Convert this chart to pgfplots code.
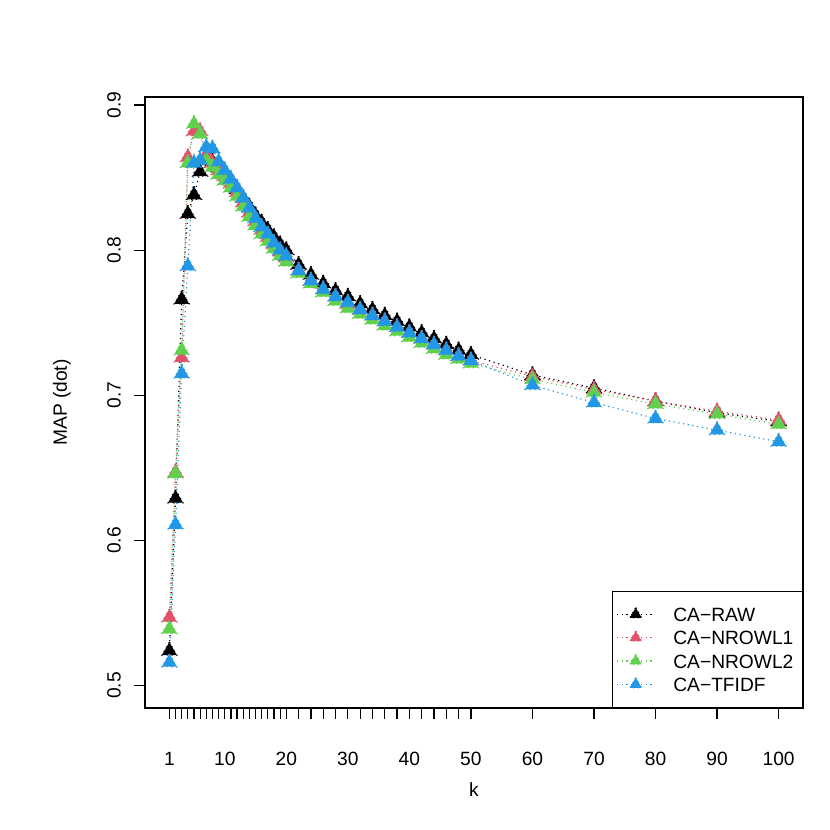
\documentclass[border=0pt]{standalone}
\usepackage{pgfplots}
\pgfplotsset{compat=1.18}
\usepackage{pgfplotstable}
\usepackage{fontspec}
\setmainfont{Liberation Sans}
\definecolor{rblack}{HTML}{000000}
\definecolor{rred}{HTML}{DF536B}
\definecolor{rgreen}{HTML}{61D04F}
\definecolor{rblue}{HTML}{2297E6}
\pgfplotstableread{
k raw nrowl1 nrowl2 tfidf
1 0.524 0.547 0.539 0.516
2 0.629 0.647 0.646 0.611
3 0.766 0.726 0.731 0.715
4 0.825 0.864 0.860 0.789
5 0.838 0.882 0.887 0.860
6 0.854 0.882 0.880 0.862
7 0.862 0.866 0.862 0.871
8 0.861 0.860 0.857 0.870
9 0.857 0.855 0.852 0.861
10 0.853 0.851 0.848 0.855
11 0.848 0.846 0.843 0.849
12 0.842 0.840 0.837 0.843
13 0.836 0.833 0.830 0.836
14 0.830 0.826 0.823 0.829
15 0.824 0.820 0.817 0.822
16 0.819 0.814 0.811 0.816
17 0.814 0.809 0.806 0.811
18 0.809 0.804 0.801 0.805
19 0.804 0.799 0.796 0.800
20 0.800 0.795 0.792 0.796
22 0.790 0.786 0.784 0.786
24 0.783 0.779 0.777 0.779
26 0.777 0.773 0.771 0.773
28 0.772 0.768 0.765 0.768
30 0.768 0.763 0.760 0.764
32 0.763 0.759 0.756 0.759
34 0.759 0.755 0.752 0.755
36 0.755 0.751 0.748 0.751
38 0.751 0.747 0.744 0.747
40 0.747 0.743 0.740 0.743
42 0.743 0.739 0.736 0.739
44 0.739 0.735 0.732 0.735
46 0.735 0.731 0.728 0.731
48 0.731 0.727 0.725 0.727
50 0.728 0.724 0.722 0.724
60 0.714 0.713 0.711 0.707
70 0.705 0.704 0.702 0.695
80 0.696 0.696 0.694 0.684
90 0.688 0.689 0.687 0.676
100 0.682 0.683 0.680 0.668
}\datatable
\newcommand{\rfont}{\fontsize{9.6}{11}\selectfont}
\begin{document}
\begin{tikzpicture}
\begin{axis}[
  scale only axis,
  width=329pt, height=305.5pt,
  xmin=-2.96, xmax=103.96,
  ymin=0.4846, ymax=0.9055,
  axis line style={line width=0.6pt},
  tick style={line width=0.6pt, black},
  tick align=outside,
  major tick length=5.5pt,
  xtick pos=bottom, ytick pos=left,
  xtick={1,10,20,30,40,50,60,70,80,90,100},
  xticklabels={1,10,20,30,40,50,60,70,80,90,100},
  extra x ticks={2,3,4,5,6,7,8,9,11,12,13,14,15,16,17,18,19,22,24,26,28,32,34,36,38,42,44,46,48},
  extra x tick labels={},
  extra x tick style={tick style={line width=0.6pt, black}},
  ytick={0.5,0.6,0.7,0.8,0.9},
  yticklabels={0.5,0.6,0.7,0.8,0.9},
  /pgf/number format/assume math mode=true,
  tick label style={font=\rfont},
  xticklabel style={anchor=center, yshift=-20pt},
  yticklabel style={anchor=center, xshift=-10pt, rotate=90},
  xlabel={k},
  ylabel={MAP (dot)},
  label style={font=\rfont},
  xlabel style={at={(axis description cs:0.5,-0.1342)}, anchor=center},
  ylabel style={at={(axis description cs:-0.1261,0.5)}, anchor=center},
  every axis plot/.append style={line width=0.6pt, dash pattern=on 0.6pt off 1.8pt, mark=triangle*, mark size=4.3pt},
  every mark/.append style={solid},
  legend image code/.code={
    \draw[#1, mark size=3.4pt, mark repeat=2, mark phase=2] plot coordinates {(0pt,0pt) (9.5pt,0pt) (19pt,0pt)};
  },
  legend style={at={(1,0)}, anchor=south east, draw=black, line width=0.6pt,
    font=\rfont, inner xsep=2pt, inner ysep=8pt, row sep=4.67pt, column sep=9pt,
    nodes={inner xsep=0pt, inner ysep=0pt, text height=7pt, text depth=0pt}},
  legend cell align=left,
]
\addplot[color=rblack] table[x=k, y=raw] {\datatable};
\addlegendentry{CA−RAW}
\addplot[color=rred] table[x=k, y=nrowl1] {\datatable};
\addlegendentry{CA−NROWL1\hspace*{2.5pt}}
\addplot[color=rgreen] table[x=k, y=nrowl2] {\datatable};
\addlegendentry{CA−NROWL2}
\addplot[color=rblue] table[x=k, y=tfidf] {\datatable};
\addlegendentry{CA−TFIDF}
\end{axis}
\pgfresetboundingbox
\useasboundingbox ([shift={(-72.5pt,-61pt)}]current axis.south west) rectangle ++(415pt,415pt);
\end{tikzpicture}
\end{document}
